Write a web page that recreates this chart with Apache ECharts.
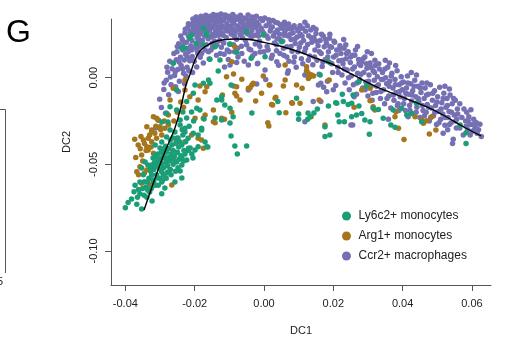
<!DOCTYPE html>
<html>
<head>
<meta charset="utf-8">
<script src="https://cdn.jsdelivr.net/npm/echarts@6/dist/echarts.min.js"></script>
<style>
  html, body { margin: 0; padding: 0; background: #fff; }
  #chart { width: 520px; height: 347px; }
</style>
</head>
<body>
<div id="chart"></div>
<script>
// tick values
const xTicks = [-0.04, -0.02, 0.00, 0.02, 0.04, 0.06];
const yTicks = [-0.10, -0.05, 0.00];

const seriesNames = ["Ly6c2+ monocytes", "Arg1+ monocytes", "Ccr2+ macrophages"];
const seriesColors = ["#1B9E77", "#A6761D", "#7570B3"];

// Ly6c2+ monocytes (DC1, DC2)
const ly6c2 = [
  [-0.0400,-0.0750],[-0.0375,-0.0658],[-0.0367,-0.0730],[-0.0358,-0.0670],[-0.0353,-0.0758],[-0.0346,-0.0678],
  [-0.0338,-0.0690],[-0.0330,-0.0660],[-0.0323,-0.0711],[-0.0295,-0.0670],[-0.0372,-0.0620],[-0.0358,-0.0602],
  [-0.0335,-0.0602],[-0.0314,-0.0620],[-0.0295,-0.0602],[-0.0286,-0.0636],[-0.0257,-0.0602],[-0.0237,-0.0579],
  [-0.0242,-0.0539],[-0.0306,-0.0579],[-0.0324,-0.0561],[-0.0353,-0.0521],[-0.0343,-0.0486],[-0.0335,-0.0504],
  [-0.0324,-0.0504],[-0.0320,-0.0463],[-0.0306,-0.0486],[-0.0314,-0.0446],[-0.0300,-0.0406],[-0.0286,-0.0463],
  [-0.0266,-0.0463],[-0.0252,-0.0486],[-0.0237,-0.0504],[-0.0223,-0.0475],[-0.0205,-0.0463],[-0.0199,-0.0417],
  [-0.0213,-0.0406],[-0.0237,-0.0388],[-0.0248,-0.0348],[-0.0234,-0.0331],[-0.0228,-0.0313],[-0.0266,-0.0388],
  [-0.0277,-0.0544],[-0.0295,-0.0544],[-0.0314,-0.0388],[-0.0295,-0.0371],[-0.0281,-0.0342],[-0.0263,-0.0348],
  [-0.0257,-0.0313],[-0.0271,-0.0302],[-0.0242,-0.0273],[-0.0223,-0.0232],[-0.0234,-0.0198],[-0.0277,-0.0256],
  [-0.0295,-0.0256],[-0.0209,-0.0198],[-0.0190,-0.0331],[-0.0170,-0.0371],[-0.0162,-0.0400],[-0.0141,-0.0232],
  [-0.0122,-0.0244],[-0.0180,-0.0302],
  [-0.0318,-0.0530],[-0.0310,-0.0510],[-0.0302,-0.0525],[-0.0296,-0.0495],[-0.0290,-0.0520],[-0.0283,-0.0490],
  [-0.0278,-0.0510],[-0.0272,-0.0480],[-0.0268,-0.0440],[-0.0262,-0.0420],[-0.0258,-0.0450],[-0.0250,-0.0430],
  [-0.0246,-0.0400],[-0.0240,-0.0450],[-0.0231,-0.0420],[-0.0226,-0.0370],[-0.0219,-0.0350],[-0.0243,-0.0370],
  [-0.0255,-0.0380],[-0.0274,-0.0410],[-0.0282,-0.0430],[-0.0291,-0.0450],[-0.0300,-0.0470],[-0.0309,-0.0460],
  [-0.0316,-0.0490],[-0.0327,-0.0540],[-0.0332,-0.0580],[-0.0320,-0.0590],[-0.0310,-0.0560],[-0.0300,-0.0580],
  [-0.0290,-0.0560],[-0.0282,-0.0580],[-0.0270,-0.0530],[-0.0262,-0.0500],[-0.0248,-0.0520],[-0.0340,-0.0630],
  [-0.0325,-0.0640],[-0.0348,-0.0560],[-0.0362,-0.0645],[-0.0284,-0.0395],[-0.0270,-0.0360],[-0.0252,-0.0350],
  [-0.0236,-0.0300],[-0.0216,-0.0280],[-0.0203,-0.0250],
  [-0.0335,-0.0650],[-0.0318,-0.0600],[-0.0305,-0.0620],[-0.0292,-0.0590],[-0.0280,-0.0550],[-0.0268,-0.0560],
  [-0.0255,-0.0540],[-0.0260,-0.0470],[-0.0245,-0.0470],[-0.0232,-0.0480],[-0.0228,-0.0440],[-0.0218,-0.0420],
  [-0.0208,-0.0440],[-0.0296,-0.0430],[-0.0288,-0.0410],[-0.0276,-0.0460],[-0.0306,-0.0440],[-0.0313,-0.0510],
  [-0.0328,-0.0520],[-0.0345,-0.0600],[-0.0350,-0.0640],[-0.0365,-0.0690],[-0.0382,-0.0700],[-0.0392,-0.0720],
  [-0.0237,0.0170],[-0.0209,0.0246],[-0.0214,0.0229],[-0.0175,0.0285],[-0.0165,0.0246],[-0.0175,0.0189],
  [-0.0228,0.0171],[-0.0262,0.0083],[-0.0141,0.0179],[-0.0196,0.0198],[-0.0156,0.0106],[-0.0127,0.0102],
  [-0.0098,0.0193],[-0.0079,0.0147],[-0.0050,0.0265],[-0.0165,0.0256],[-0.0002,0.0246],[0.0051,0.0208],
  [0.0003,0.0121],[-0.0037,0.0112],[0.0186,0.0092],[0.0162,0.0016],
  [-0.0252,-0.0071],[-0.0199,-0.0042],[-0.0175,-0.0032],[-0.0156,-0.0032],[-0.0122,-0.0129],[-0.0132,0.0039],
  [-0.0160,-0.0013],[-0.0136,-0.0129],[-0.0122,-0.0110],[-0.0098,-0.0177],[-0.0089,-0.0225],[-0.0098,-0.0262],
  [-0.0084,-0.0394],[-0.0077,-0.0440],[-0.0050,-0.0394],[-0.0185,-0.0186],[-0.0173,-0.0238],[-0.0180,-0.0292],
  [-0.0165,-0.0398],[-0.0190,-0.0398],[-0.0218,-0.0407],[-0.0237,-0.0456],[-0.0194,-0.0177],[-0.0204,-0.0090],
  [-0.0223,-0.0138],[-0.0252,-0.0186],[-0.0271,-0.0167],[-0.0281,-0.0205],[-0.0242,-0.0244],[-0.0228,-0.0292],
  [-0.0204,-0.0321],[-0.0095,-0.0042],[-0.0113,-0.0158],[-0.0035,-0.0204],[-0.0095,-0.0336],
  [0.0040,-0.0138],[0.0044,-0.0202],[0.0094,-0.0119],[0.0100,-0.0210],[0.0100,-0.0240],[0.0127,-0.0204],
  [0.0144,-0.0204],[0.0126,-0.0240],[0.0154,-0.0181],[0.0186,-0.0163],[0.0207,-0.0144],[0.0213,-0.0215],
  [0.0226,-0.0096],[0.0229,-0.0138],[0.0243,-0.0154],[0.0217,-0.0254],[0.0232,-0.0254],[0.0176,-0.0283],
  [0.0176,-0.0340],[0.0190,-0.0330],[0.0253,-0.0225],[0.0257,-0.0100],[0.0274,-0.0023],[0.0296,-0.0048],
  [0.0133,-0.0225],[0.0267,-0.0215],[0.0282,-0.0206],[0.0291,-0.0244],[0.0306,-0.0254],[0.0315,-0.0177],
  [0.0330,-0.0183],[0.0344,-0.0234],[0.0366,-0.0273],[0.0378,-0.0286],[0.0373,-0.0186],[0.0397,-0.0177],
  [0.0412,-0.0215],[0.0426,-0.0206],[0.0440,-0.0148],[0.0455,-0.0254],[0.0566,-0.0273],[0.0583,-0.0317],
  [0.0583,-0.0379],[0.0304,-0.0327],[0.0253,-0.0148],[0.0274,-0.0163],[0.0210,-0.0148]
];

// Arg1+ monocytes
const arg1 = [
  [-0.0319,-0.0225],[-0.0305,-0.0244],[-0.0324,-0.0302],[-0.0334,-0.0350],[-0.0348,-0.0360],[-0.0363,-0.0388],
  [-0.0338,-0.0398],[-0.0324,-0.0369],[-0.0310,-0.0350],[-0.0295,-0.0331],[-0.0286,-0.0292],[-0.0276,-0.0273],
  [-0.0276,-0.0215],[-0.0334,-0.0417],[-0.0319,-0.0436],[-0.0353,-0.0446],[-0.0358,-0.0514],[-0.0367,-0.0542],
  [-0.0338,-0.0533],[-0.0353,-0.0609],[-0.0329,-0.0619],[-0.0266,-0.0619],[-0.0295,-0.0465],[-0.0199,-0.0234],
  [-0.0175,-0.0234],[-0.0170,-0.0215],[-0.0146,-0.0254],[-0.0175,-0.0407],[-0.0190,-0.0350],[-0.0209,-0.0331],
  [-0.0228,-0.0369],[-0.0252,-0.0360],[-0.0300,-0.0283],[-0.0271,-0.0129],[-0.0228,-0.0013],[-0.0214,-0.0110],
  [-0.0185,-0.0048],[-0.0165,-0.0052],[-0.0170,-0.0081],[-0.0190,-0.0129],[-0.0262,-0.0061],[-0.0228,-0.0071],
  [-0.0084,0.0179],[-0.0088,0.0021],[-0.0079,-0.0052],[-0.0031,-0.0032],[-0.0045,-0.0061],[-0.0069,-0.0129],
  [-0.0122,-0.0234],[-0.0146,-0.0186],[-0.0180,-0.0360],[-0.0093,0.0092],[0.0061,0.0073],[-0.0108,0.0006],
  [-0.0064,-0.0009],[-0.0002,0.0010],[0.0061,-0.0013],[0.0123,0.0039],[0.0138,0.0016],[0.0128,-0.0004],
  [-0.0035,-0.0042],[-0.0040,-0.0058],[0.0017,-0.0042],[-0.0007,-0.0090],[0.0056,-0.0048],[0.0094,-0.0042],
  [0.0110,-0.0061],[-0.0120,-0.0100],[-0.0084,-0.0090],[-0.0079,-0.0106],[-0.0024,-0.0134],[0.0034,-0.0113],
  [0.0022,-0.0154],[0.0082,-0.0148],[0.0104,-0.0148],[0.0159,-0.0129],[0.0063,-0.0202],[0.0136,-0.0225],
  [-0.0093,-0.0200],[-0.0114,-0.0240],[-0.0141,-0.0260],[0.0011,-0.0260],[0.0014,-0.0279],[0.0176,-0.0273],
  [0.0131,0.0021],[0.0015,-0.0042],[0.0025,-0.0158],[0.0032,-0.0119],[0.0080,-0.0144],[0.0123,0.0063],
  [0.0133,0.0006],[0.0143,0.0010],[0.0188,-0.0013],[0.0282,-0.0071],[0.0306,-0.0061],[0.0306,-0.0133],
  [0.0315,-0.0167],[0.0320,-0.0186],[0.0260,-0.0171],[0.0381,-0.0196],[0.0378,-0.0225],[0.0388,-0.0292],
  [0.0404,-0.0356],[0.0436,-0.0225],[0.0455,-0.0244],[0.0469,-0.0248],[0.0477,-0.0325],[0.0496,-0.0302],
  [0.0484,-0.0225],[0.0460,-0.0263],
  [-0.0345,-0.0380],[-0.0330,-0.0330],[-0.0315,-0.0320],[-0.0340,-0.0420],[-0.0357,-0.0410],[-0.0326,-0.0400],
  [-0.0312,-0.0280],[-0.0298,-0.0300],[-0.0288,-0.0250],[-0.0370,-0.0460],[-0.0350,-0.0480],[-0.0362,-0.0560],
  [-0.0345,-0.0550],[-0.0260,-0.0250],[-0.0250,-0.0200],[-0.0240,-0.0140],[-0.0232,-0.0170],[-0.0355,-0.0340],
  [-0.0373,-0.0355],[-0.0338,-0.0283],[-0.0310,-0.0234],[-0.0324,-0.0311]
];

// Ccr2+ macrophages
const ccr2 = [
  [-0.0312,-0.0290],[-0.0305,-0.0245],[-0.0296,-0.0172],[-0.0289,-0.0068],[-0.0284,-0.0205],[-0.0301,-0.0125],
  [-0.0278,0.0032],[-0.0282,-0.0015],[-0.0270,0.0004],[-0.0275,-0.0098],
  [-0.0262,0.0085],[-0.0258,0.0012],[-0.0255,-0.0052],[-0.0251,0.0150],[-0.0249,0.0048],[-0.0246,0.0196],
  [-0.0244,-0.0021],[-0.0241,0.0118],[-0.0239,0.0071],[-0.0236,0.0221],[-0.0234,0.0160],[-0.0232,0.0025],
  [-0.0230,0.0102],[-0.0265,0.0052],[-0.0253,0.0103],[-0.0247,-0.0080],[-0.0238,0.0180],[-0.0229,-0.0035],
  [-0.0228,0.0260],[-0.0226,0.0135],[-0.0224,0.0205],[-0.0222,0.0060],[-0.0220,0.0290],[-0.0218,0.0240],
  [-0.0216,0.0172],[-0.0214,0.0098],[-0.0212,0.0305],[-0.0210,0.0270],[-0.0208,0.0215],[-0.0206,0.0030],
  [-0.0204,0.0318],[-0.0202,0.0255],[-0.0225,0.0010],[-0.0219,0.0148],[-0.0211,0.0185],[-0.0207,0.0122],
  [-0.0203,0.0286],[-0.0215,0.0228],
  [-0.0199,0.0325],[-0.0197,0.0270],[-0.0195,0.0300],[-0.0193,0.0232],[-0.0191,0.0140],[-0.0189,0.0312],
  [-0.0187,0.0285],[-0.0185,0.0250],[-0.0183,0.0330],[-0.0181,0.0195],[-0.0179,0.0300],[-0.0177,0.0268],
  [-0.0175,0.0085],[-0.0173,0.0322],[-0.0171,0.0240],[-0.0198,0.0175],[-0.0190,0.0210],[-0.0184,0.0118],
  [-0.0178,0.0215],[-0.0174,0.0295],[-0.0194,0.0062],[-0.0186,0.0335],
  [-0.0169,0.0338],[-0.0167,0.0290],[-0.0165,0.0265],[-0.0163,0.0315],[-0.0161,0.0225],[-0.0159,0.0340],
  [-0.0157,0.0275],[-0.0155,0.0302],[-0.0153,0.0160],[-0.0151,0.0328],[-0.0149,0.0250],[-0.0147,0.0288],
  [-0.0145,0.0345],[-0.0143,0.0210],[-0.0141,0.0310],[-0.0139,0.0268],[-0.0137,0.0130],[-0.0135,0.0335],
  [-0.0133,0.0292],[-0.0131,0.0245],[-0.0166,0.0190],[-0.0158,0.0108],[-0.0150,0.0198],[-0.0142,0.0242],
  [-0.0129,0.0320],[-0.0127,0.0278],[-0.0125,0.0342],[-0.0123,0.0175],[-0.0121,0.0300],[-0.0119,0.0258],
  [-0.0117,0.0330],[-0.0115,0.0135],[-0.0113,0.0285],[-0.0111,0.0348],[-0.0109,0.0232],[-0.0107,0.0312],
  [-0.0105,0.0270],[-0.0103,0.0105],[-0.0101,0.0338],[-0.0099,0.0195],[-0.0097,0.0295],[-0.0095,0.0252],
  [-0.0093,0.0325],[-0.0128,0.0215],[-0.0114,0.0062],[-0.0106,0.0160],
  [-0.0091,0.0345],[-0.0089,0.0280],[-0.0087,0.0310],[-0.0085,0.0150],[-0.0083,0.0262],[-0.0081,0.0335],
  [-0.0079,0.0222],[-0.0077,0.0298],[-0.0075,0.0120],[-0.0073,0.0340],[-0.0071,0.0275],[-0.0069,0.0248],
  [-0.0067,0.0318],[-0.0065,0.0182],[-0.0063,0.0290],[-0.0061,0.0330],[-0.0059,0.0262],[-0.0057,0.0095],
  [-0.0055,0.0305],[-0.0053,0.0215],
  [-0.0051,0.0340],[-0.0049,0.0285],[-0.0047,0.0252],[-0.0045,0.0318],[-0.0043,0.0165],[-0.0041,0.0298],
  [-0.0039,0.0332],[-0.0037,0.0230],[-0.0035,0.0272],[-0.0033,0.0125],[-0.0031,0.0310],[-0.0029,0.0338],
  [-0.0027,0.0245],[-0.0025,0.0195],[-0.0023,0.0290],[-0.0021,0.0322],[-0.0019,0.0080],[-0.0017,0.0265],
  [-0.0015,0.0305],[-0.0013,0.0210],[-0.0011,0.0148],[-0.0008,0.0285],
  [-0.0004,0.0330],[0.0000,0.0255],[0.0003,0.0045],[0.0006,0.0300],[0.0009,0.0180],[0.0012,0.0228],
  [0.0015,0.0315],[0.0018,0.0270],[0.0021,0.0112],[0.0024,0.0292],[0.0027,0.0240],[0.0030,0.0200],
  [0.0033,0.0320],[0.0036,0.0155],[0.0039,0.0275],[0.0042,0.0072],[0.0045,0.0250],[0.0048,0.0302],
  [0.0005,-0.0010],[0.0038,0.0225],
  [0.0051,0.0285],[0.0054,0.0210],[0.0057,0.0130],[0.0060,0.0262],[0.0063,0.0305],[0.0066,0.0178],
  [0.0069,0.0240],[0.0072,0.0095],[0.0075,0.0282],[0.0078,0.0220],[0.0081,0.0152],[0.0084,0.0260],
  [0.0087,0.0300],[0.0090,0.0198],[0.0093,0.0060],[0.0096,0.0235],[0.0099,0.0270],[0.0070,0.0040],
  [0.0088,0.0120],[0.0059,0.0320],
  [0.0102,0.0175],[0.0105,0.0250],[0.0108,0.0110],[0.0111,0.0285],[0.0114,0.0215],[0.0117,0.0150],
  [0.0120,0.0268],[0.0123,0.0040],[0.0126,0.0192],[0.0129,0.0242],[0.0132,0.0125],[0.0135,0.0275],
  [0.0138,0.0205],[0.0141,0.0075],[0.0144,0.0230],[0.0147,0.0160],[0.0150,0.0255],[0.0153,0.0100],
  [0.0156,0.0185],[0.0159,0.0020],[0.0118,0.0320],[0.0142,0.0290],
  [0.0162,0.0215],[0.0165,0.0140],[0.0168,0.0065],[0.0171,0.0240],[0.0174,0.0178],[0.0177,0.0105],
  [0.0180,0.0200],[0.0183,-0.0020],[0.0186,0.0150],[0.0189,0.0228],[0.0192,0.0085],[0.0195,0.0175],
  [0.0198,0.0030],[0.0201,0.0120],[0.0204,0.0205],[0.0207,-0.0045],[0.0210,0.0160],[0.0213,0.0060],
  [0.0216,0.0098],[0.0219,0.0185],[0.0172,-0.0055],[0.0200,-0.0070],
  [0.0222,0.0140],[0.0225,0.0015],[0.0228,0.0080],[0.0231,0.0170],[0.0234,-0.0030],[0.0237,0.0110],
  [0.0240,0.0045],[0.0243,0.0150],[0.0246,-0.0070],[0.0249,0.0088],[0.0252,0.0010],[0.0255,0.0130],
  [0.0258,-0.0040],[0.0261,0.0062],[0.0264,0.0160],[0.0267,-0.0095],[0.0270,0.0025],[0.0273,0.0105],
  [0.0276,-0.0010],[0.0279,0.0070],[0.0236,0.0190],[0.0260,-0.0110],
  [0.0282,0.0090],[0.0285,-0.0060],[0.0288,0.0030],[0.0291,0.0120],[0.0294,-0.0025],[0.0297,0.0055],
  [0.0300,-0.0105],[0.0303,0.0015],[0.0306,0.0085],[0.0309,-0.0050],[0.0312,-0.0130],[0.0315,0.0040],
  [0.0318,-0.0015],[0.0321,0.0070],[0.0324,-0.0085],[0.0327,0.0005],[0.0330,-0.0040],[0.0333,0.0050],
  [0.0336,-0.0120],[0.0339,-0.0010],[0.0298,0.0150],[0.0320,0.0100],
  [0.0342,0.0030],[0.0345,-0.0070],[0.0348,-0.0150],[0.0351,0.0000],[0.0354,-0.0035],[0.0357,0.0060],
  [0.0360,-0.0105],[0.0363,-0.0020],[0.0366,-0.0175],[0.0369,0.0025],[0.0372,-0.0060],[0.0375,-0.0130],
  [0.0378,-0.0010],[0.0381,-0.0085],[0.0384,0.0040],[0.0387,-0.0150],[0.0390,-0.0040],[0.0393,-0.0110],
  [0.0396,0.0005],[0.0399,-0.0070],[0.0362,0.0085],[0.0389,-0.0190],
  [0.0402,-0.0025],[0.0405,-0.0120],[0.0408,-0.0190],[0.0411,-0.0060],[0.0414,0.0010],[0.0417,-0.0095],
  [0.0420,-0.0160],[0.0423,-0.0035],[0.0426,-0.0135],[0.0429,-0.0075],[0.0432,-0.0210],[0.0435,-0.0015],
  [0.0438,-0.0110],[0.0441,-0.0170],[0.0444,-0.0050],[0.0447,-0.0140],[0.0450,-0.0230],[0.0453,-0.0085],
  [0.0456,-0.0030],[0.0459,-0.0190],[0.0416,-0.0225],[0.0440,0.0015],
  [0.0462,-0.0120],[0.0465,-0.0060],[0.0468,-0.0200],[0.0471,-0.0155],[0.0474,-0.0095],[0.0477,-0.0250],
  [0.0480,-0.0040],[0.0483,-0.0175],[0.0486,-0.0130],[0.0489,-0.0220],[0.0492,-0.0075],[0.0495,-0.0160],
  [0.0498,-0.0270],[0.0501,-0.0110],[0.0504,-0.0195],[0.0507,-0.0055],[0.0510,-0.0240],[0.0513,-0.0145],
  [0.0516,-0.0210],[0.0519,-0.0090],
  [0.0522,-0.0275],[0.0525,-0.0170],[0.0528,-0.0120],[0.0531,-0.0230],[0.0534,-0.0195],[0.0537,-0.0100],
  [0.0540,-0.0260],[0.0543,-0.0150],[0.0546,-0.0355],[0.0549,-0.0215],[0.0552,-0.0130],[0.0555,-0.0290],
  [0.0558,-0.0180],[0.0544,-0.0380],[0.0517,-0.0320],[0.0530,-0.0300],[0.0556,-0.0240],[0.0535,-0.0065],
  [0.0582,-0.0250],[0.0585,-0.0200],[0.0588,-0.0300],[0.0591,-0.0225],[0.0594,-0.0270],[0.0597,-0.0185],
  [0.0600,-0.0310],[0.0605,-0.0240],[0.0610,-0.0285],[0.0615,-0.0320],[0.0623,-0.0268],[0.0627,-0.0340],
  [-0.0098,0.0073],[-0.0079,0.0087],[-0.0045,0.0073],[-0.0018,0.0083],[0.0037,0.0092],[-0.0088,-0.0048],
  [-0.0045,-0.0071],[-0.0021,-0.0036],[0.0068,0.0025],[0.0118,0.0016],[0.0157,-0.0042],[0.0164,-0.0032],
  [0.0181,-0.0081],[0.0142,-0.0138],[0.0164,-0.0138],[0.0251,-0.0273],[0.0118,-0.0254],[0.0256,-0.0273],
  [0.0359,-0.0240],
  [-0.0218,0.0312],[-0.0213,0.0262],[-0.0205,0.0338],[-0.0200,0.0290],[-0.0196,0.0350],[-0.0192,0.0262],
  [-0.0188,0.0222],[-0.0182,0.0355],[-0.0176,0.0340],[-0.0172,0.0275],[-0.0168,0.0360],[-0.0162,0.0300],
  [-0.0156,0.0355],[-0.0152,0.0235],[-0.0146,0.0365],[-0.0140,0.0325],[-0.0134,0.0360],[-0.0130,0.0270],
  [-0.0124,0.0368],[-0.0118,0.0245],[-0.0112,0.0362],[-0.0108,0.0290],[-0.0102,0.0355],[-0.0096,0.0270],
  [-0.0090,0.0365],[-0.0086,0.0240],[-0.0080,0.0350],[-0.0074,0.0285],[-0.0068,0.0360],[-0.0062,0.0230],
  [-0.0058,0.0345],[-0.0052,0.0275],[-0.0046,0.0362],[-0.0040,0.0250],[-0.0034,0.0350],[-0.0028,0.0300],
  [-0.0022,0.0355],[-0.0016,0.0240],[-0.0010,0.0340],[-0.0005,0.0270],[0.0002,0.0345],[0.0008,0.0240],
  [0.0014,0.0335],[0.0020,0.0290],[0.0026,0.0330],[0.0032,0.0260],[0.0040,0.0315],[0.0046,0.0220],
  [0.0052,0.0305],[0.0058,0.0245],[0.0064,0.0280],[0.0071,0.0310],[0.0076,0.0250],[0.0083,0.0290],
  [0.0090,0.0225],[0.0097,0.0280],[0.0104,0.0300],[0.0110,0.0240],
  [-0.0288,-0.0030],[-0.0280,0.0060],[-0.0272,0.0095],[-0.0268,-0.0040],[-0.0260,0.0140],[-0.0256,0.0035],
  [-0.0250,0.0180],[-0.0245,0.0090],[-0.0240,0.0240],[-0.0235,0.0050],[-0.0231,0.0200],[-0.0227,0.0280],
  [-0.0221,0.0120],[-0.0217,0.0040],[-0.0209,0.0160],[-0.0201,0.0095],[-0.0193,0.0155],[-0.0187,0.0180],
  [-0.0180,0.0140],[-0.0170,0.0160],[-0.0160,0.0150],[-0.0148,0.0175],[-0.0136,0.0190],[-0.0126,0.0140],
  [-0.0116,0.0200],[-0.0100,0.0150],[-0.0088,0.0190],[-0.0076,0.0170],[-0.0064,0.0140],[-0.0050,0.0190],
  [-0.0038,0.0160],[-0.0026,0.0140],[-0.0012,0.0180],[0.0000,0.0150],[0.0012,0.0160],[0.0024,0.0130],
  [0.0036,0.0190],[0.0046,0.0140],[0.0056,0.0170],[0.0066,0.0120],[0.0078,0.0180],[0.0086,0.0090],
  [0.0098,0.0150],[0.0106,0.0200],[0.0112,0.0080],[0.0120,0.0170],[0.0128,0.0100],[0.0136,0.0230],
  [0.0146,0.0120],[0.0152,0.0210],[0.0160,0.0150],[0.0166,0.0250],[0.0170,0.0090],[0.0178,0.0220],
  [0.0184,0.0120],[0.0190,0.0180],[0.0196,0.0080],[0.0202,0.0210],[0.0208,0.0130],[0.0214,0.0030],
  [0.0220,0.0170],[0.0226,0.0100],[0.0232,0.0050],[0.0238,0.0140],[0.0244,0.0000],[0.0250,0.0120],
  [0.0256,0.0050],[0.0262,0.0130],[0.0268,-0.0030],[0.0274,0.0080],[0.0280,0.0020],[0.0286,0.0110],
  [0.0292,-0.0070],[0.0296,0.0080],[0.0302,-0.0020],[0.0308,0.0060],[0.0314,-0.0090],[0.0319,0.0030],
  [0.0325,-0.0050],[0.0331,0.0080],[0.0337,-0.0080],[0.0343,-0.0010],[0.0349,0.0050],[0.0355,-0.0120],
  [0.0361,-0.0050],[0.0367,0.0010],[0.0373,-0.0100],[0.0379,-0.0040],[0.0385,-0.0160],[0.0391,-0.0080],
  [0.0397,-0.0030],[0.0403,-0.0150],[0.0409,-0.0090],[0.0415,-0.0030],[0.0421,-0.0190],[0.0427,-0.0100],
  [0.0433,-0.0050],[0.0439,-0.0200],[0.0445,-0.0120],[0.0451,-0.0060],[0.0457,-0.0160],[0.0463,-0.0220],
  [0.0469,-0.0100],[0.0475,-0.0170],[0.0481,-0.0230],[0.0487,-0.0090],[0.0493,-0.0200],[0.0499,-0.0140],
  [0.0505,-0.0260],[0.0511,-0.0180],[0.0517,-0.0120],[0.0523,-0.0230],[0.0529,-0.0160],[0.0535,-0.0270],
  [0.0541,-0.0200],[0.0547,-0.0120],[0.0553,-0.0250],[0.0559,-0.0210],[0.0565,-0.0290],[0.0571,-0.0230],
  [0.0577,-0.0180],[0.0583,-0.0280],[0.0589,-0.0250],[0.0595,-0.0330],[0.0601,-0.0270],[0.0607,-0.0300],
  [0.0613,-0.0260],[0.0619,-0.0300],[0.0575,-0.0330],[0.0565,-0.0150],[0.0522,-0.0050],[0.0470,-0.0030],
  [0.0425,0.0030],[0.0380,0.0070],[0.0350,0.0100],[0.0310,0.0140],[0.0270,0.0180],[0.0230,0.0220],
  [0.0190,0.0250],[0.0150,0.0280],[0.0125,0.0300]
];

// principal curve through the cells
const curve = [
  [-0.0346,-0.0763],[-0.0314,-0.0579],[-0.0286,-0.0429],[-0.0257,-0.0290],[-0.0239,-0.0163],[-0.0225,-0.0042],
  [-0.0214,0.0016],[-0.0199,0.0102],[-0.0185,0.0154],[-0.0167,0.0183],[-0.0141,0.0209],[-0.0112,0.0220],
  [-0.0084,0.0223],[-0.0046,0.0222],[-0.0012,0.0209],[0.0046,0.0183],[0.0098,0.0151],[0.0147,0.0114],
  [0.0196,0.0079],[0.0263,0.0010],[0.0320,-0.0048],[0.0372,-0.0091],[0.0421,-0.0129],[0.0470,-0.0169],
  [0.0522,-0.0221],[0.0566,-0.0273],[0.0626,-0.0336]
];

const FONT = '"Liberation Sans", Arial, Helvetica, sans-serif';
const chart = echarts.init(document.getElementById("chart"), null, { renderer: "canvas" });

const pointSeries = (name, data, color) => ({
  name: name,
  type: "scatter",
  data: data,
  symbol: "circle",
  symbolSize: 5.5,
  clip: false,
  itemStyle: { color: color, opacity: 1 },
  silent: true
});

chart.setOption({
  animation: false,
  backgroundColor: "#fff",
  textStyle: { fontFamily: FONT },
  grid: { left: 111, top: 19, width: 380, height: 266 },
  xAxis: {
    type: "value",
    min: -0.04414,
    max: 0.06550,
    name: "DC1",
    nameLocation: "middle",
    nameGap: 40,
    nameTextStyle: { color: "#222", fontSize: 11, fontFamily: FONT },
    axisLine: { show: true, onZero: false, lineStyle: { color: "#555", width: 1 } },
    axisTick: { show: true, length: 6, customValues: xTicks, lineStyle: { color: "#555" } },
    axisLabel: {
      customValues: xTicks, margin: 13, color: "#222", fontSize: 11, fontFamily: FONT,
      formatter: (v) => v.toFixed(2)
    },
    splitLine: { show: false }
  },
  yAxis: {
    type: "value",
    min: -0.11962,
    max: 0.03387,
    axisLine: { show: true, onZero: false, lineStyle: { color: "#555", width: 1 } },
    axisTick: { show: true, length: 6, customValues: yTicks, lineStyle: { color: "#555" } },
    axisLabel: {
      customValues: yTicks, rotate: 90, margin: 12, color: "#222", fontSize: 11, fontFamily: FONT,
      formatter: (v) => v.toFixed(2)
    },
    splitLine: { show: false }
  },
  legend: {
    orient: "vertical",
    left: 337,
    top: 205,
    itemWidth: 14,
    itemHeight: 9,
    itemGap: 8,
    icon: "circle",
    data: seriesNames,
    textStyle: { color: "#222", fontSize: 12, fontFamily: FONT },
    selectedMode: false
  },
  graphic: [
    { type: "text", left: 6, top: 17, style: { text: "G", fontSize: 32, fontFamily: FONT, fill: "#000" } },
    { type: "text", x: 67, y: 142, rotation: Math.PI / 2,
      style: { text: "DC2", fontSize: 11, fontFamily: FONT, fill: "#222", align: "center", verticalAlign: "middle" } },
    // edge of the neighbouring panel
    { type: "polyline", shape: { points: [[0, 109.5], [5.5, 109.5], [5.5, 273]] },
      style: { stroke: "#555", lineWidth: 1, fill: null } },
    { type: "text", x: 3, y: 282, style: { text: "5", fontSize: 11, fontFamily: FONT, fill: "#222", align: "right", verticalAlign: "middle" } }
  ],
  series: [
    pointSeries(seriesNames[2], ccr2, seriesColors[2]),
    pointSeries(seriesNames[1], arg1, seriesColors[1]),
    pointSeries(seriesNames[0], ly6c2, seriesColors[0]),
    {
      type: "line",
      data: curve,
      smooth: 0.4,
      symbol: "none",
      silent: true,
      lineStyle: { color: "#000", width: 1.4 },
      z: 5
    }
  ]
});
</script>
</body>
</html>
